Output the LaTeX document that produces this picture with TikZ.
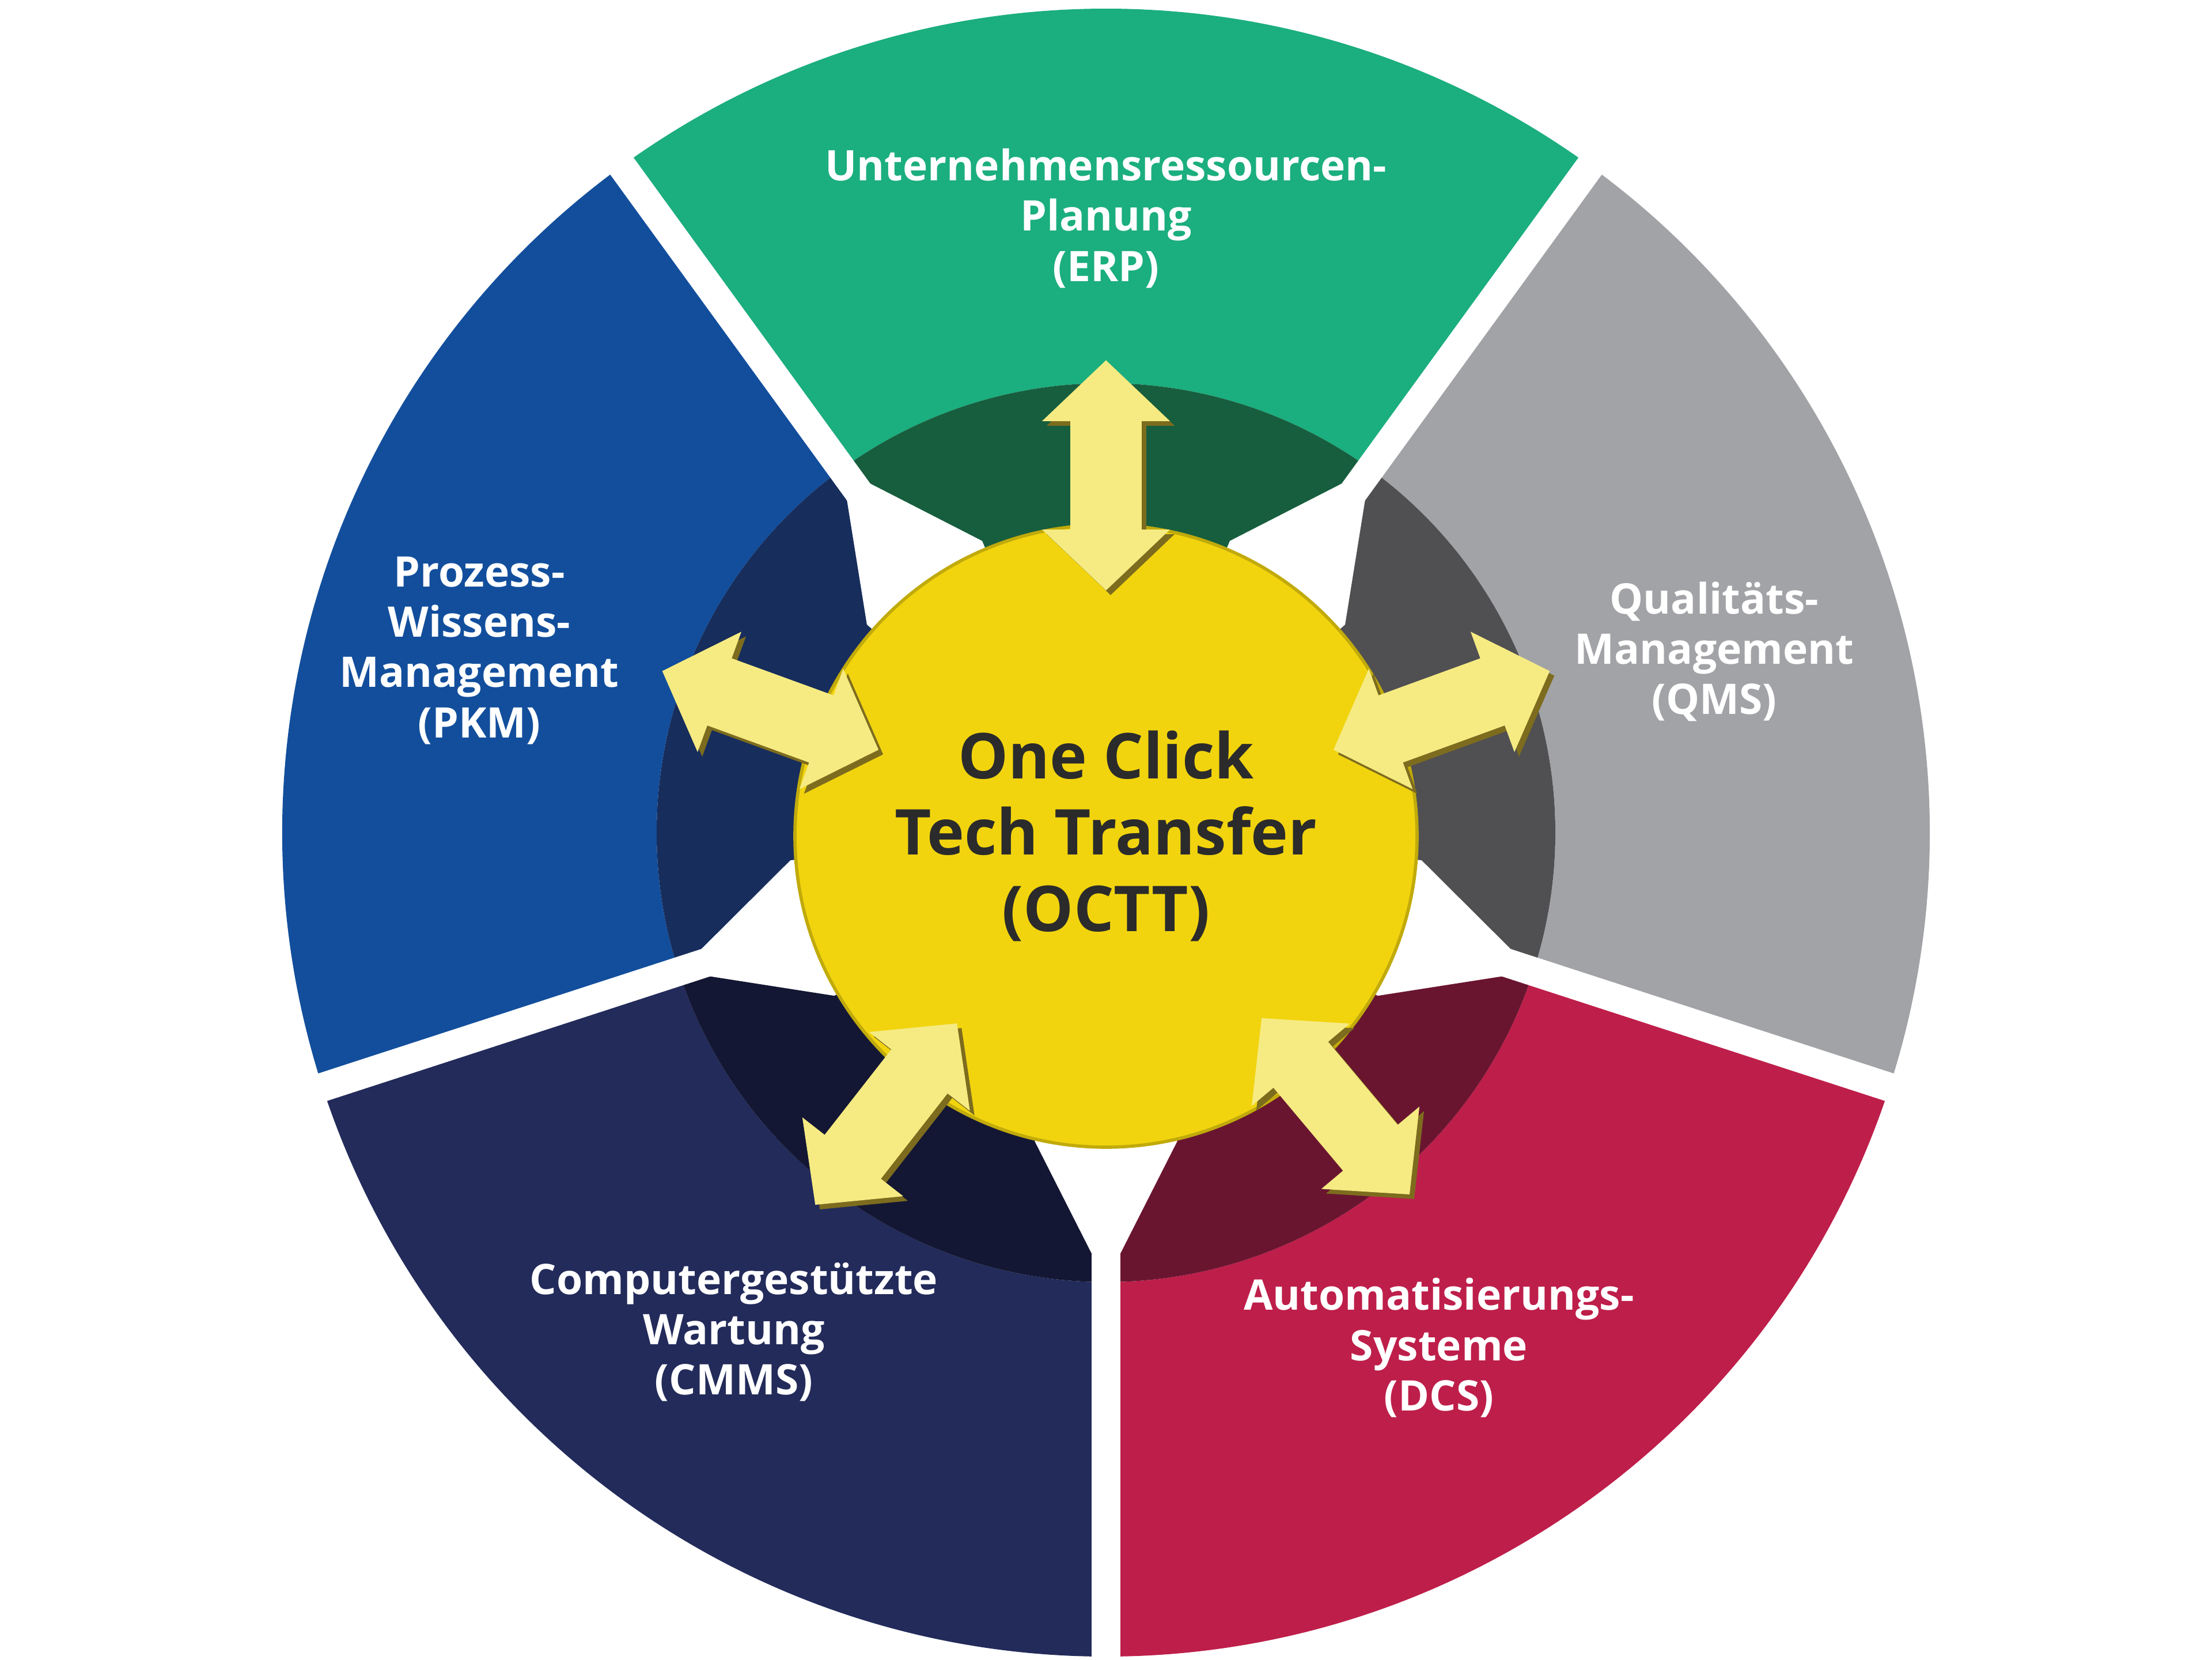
\documentclass[tikz,border=0pt]{standalone}
\usepackage{fontspec}
\setmainfont{Open Sans}
\usetikzlibrary{arrows.meta}
\definecolor{erplight}{RGB}{27,174,126}
\definecolor{erpdark}{RGB}{23,94,62}
\definecolor{qmslight}{RGB}{162,163,166}
\definecolor{qmsdark}{RGB}{80,80,82}
\definecolor{dcslight}{RGB}{190,30,74}
\definecolor{dcsdark}{RGB}{106,21,48}
\definecolor{cmmslight}{RGB}{34,43,90}
\definecolor{cmmsdark}{RGB}{20,23,51}
\definecolor{pkmlight}{RGB}{18,78,156}
\definecolor{pkmdark}{RGB}{23,45,92}
\definecolor{kerngelb}{RGB}{241,212,14}
\definecolor{pfeilgelb}{RGB}{246,235,130}
\definecolor{pfeilrand}{RGB}{125,108,30}
\definecolor{kerntext}{RGB}{43,43,43}

\tikzset{
    segtext/.style={text=white, align=center, font=\bfseries\fontsize{10.4}{12.4}\selectfont},
    kern/.style={circle, fill=kerngelb, draw=kerngelb!80!black, line width=0.8pt, minimum size=5.4cm, inner sep=0pt, text=kerntext, align=center, font=\bfseries\fontsize{15.6}{18.8}\selectfont},
    spalt/.style={white, line width=0.25cm},
    doppelpfeil/.style={draw=pfeilgelb, line width=0.62cm, arrows={Triangle[length=0.53cm,width=1.08cm]-Triangle[length=0.53cm,width=1.08cm]}},
    pfeilschatten/.style={doppelpfeil, draw=pfeilrand, transform canvas={xshift=0.4mm, yshift=-0.4mm}}
}

\begin{document}
\begin{tikzpicture}
    \fill[white] (-9.6,-7.175) rectangle (9.6,7.225);
    \useasboundingbox (-9.6,-7.175) rectangle (9.6,7.225);
    \foreach \w/\n in {90/erp,18/qms,-54/dcs,234/cmms,162/pkm}{
        \fill[\n light] (\w-36:3.9) arc[start angle=\w-36, end angle=\w+36, radius=3.9]
            -- (\w+36:7.15) arc[start angle=\w+36, end angle=\w-36, radius=7.15] -- cycle;
        \fill[\n dark] (\w-36:3.9) arc[start angle=\w-36, end angle=\w+36, radius=3.9]
            -- (\w+23:2.75) -- (0,0) -- (\w-23:2.75) -- cycle;
    }
    \foreach \g in {54,126,198,270,342}
        \draw[spalt] (0,0) -- (\g:7.6);
    \node[kern] (octt) at (0,-0.03) {One Click\\Tech Transfer\\(OCTT)};
    \foreach \w/\n in {90/erp,20/qms,-50/dcs,232/cmms,160/pkm}{
        \coordinate (\n-in) at (\w:2.1);
        \coordinate (\n-out) at (\w:4.1);
        \draw[pfeilschatten] (\n-in) -- (\n-out);
        \draw[doppelpfeil] (\n-in) -- (\n-out);
    }
    \node[segtext] (erp) at (0,5.33) {Unternehmensressourcen-\\Planung\\(ERP)};
    \node[segtext] (qms) at (5.28,1.57) {Qualitäts-\\Management\\(QMS)};
    \node[segtext] (dcs) at (2.89,-4.47) {Automatisierungs-\\Systeme\\(DCS)};
    \node[segtext] (cmms) at (-3.23,-4.335) {Computergestützte\\Wartung\\(CMMS)};
    \node[segtext] (pkm) at (-5.44,1.58) {Prozess-\\Wissens-\\Management\\(PKM)};
\end{tikzpicture}
\end{document}
